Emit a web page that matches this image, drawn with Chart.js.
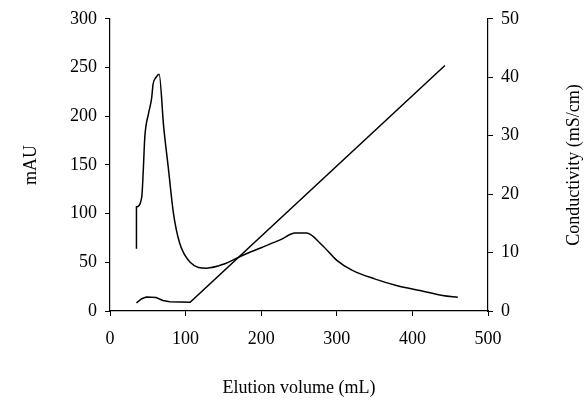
<!DOCTYPE html>
<html>
<head>
<meta charset="utf-8">
<script src="https://cdn.jsdelivr.net/npm/chart.js@4"></script>
<style>
  html, body { margin: 0; padding: 0; background: #fff; }
  #wrap { width: 584px; height: 403px; }
</style>
</head>
<body>
<div id="wrap"><canvas id="c" width="584" height="403"></canvas></div>
<script>
// UV absorbance trace (mL, mAU)
const uvVolume = [35, 35, 42, 44, 46, 51, 55, 57, 61, 65, 71, 77, 84, 92, 106, 128, 150, 175, 200, 225, 245, 260, 280, 300, 320, 350, 380, 410, 440, 460];
const uvValues = [64, 107, 117, 144, 178, 203, 218, 233, 240, 243, 189, 148, 100, 70, 50, 44, 48, 57, 65, 73, 80, 80, 68, 52, 42, 33, 26, 21, 16, 14];

// Conductivity trace (mL, mS/cm)
const condVolume = [35, 42, 48, 61, 70, 79, 106, 443];
const condValues = [1.4, 2.1, 2.4, 2.3, 1.8, 1.6, 1.5, 42];

const FONT = { family: 'Liberation Serif', size: 18 };

function toPoints(xs, ys) {
    return xs.map((x, i) => ({ x, y: ys[i] }));
}

// right axis title reads bottom-to-top, as in the reference
const rightTitle = {
    id: 'rightTitle',
    afterDraw(chart) {
        const { ctx, chartArea } = chart;
        ctx.save();
        ctx.translate(574, (chartArea.top + chartArea.bottom) / 2);
        ctx.rotate(-Math.PI / 2);
        ctx.font = '18px "Liberation Serif"';
        ctx.fillStyle = '#000';
        ctx.textAlign = 'center';
        ctx.textBaseline = 'middle';
        ctx.fillText('Conductivity (mS/cm)', 0, 0);
        ctx.restore();
    }
};

new Chart(document.getElementById('c'), {
    type: 'line',
    data: {
        datasets: [
            { data: toPoints(uvVolume, uvValues), yAxisID: 'y', borderColor: '#000', borderWidth: 1.5, pointRadius: 0, cubicInterpolationMode: 'monotone' },
            { data: toPoints(condVolume, condValues), yAxisID: 'y2', borderColor: '#000', borderWidth: 1.5, pointRadius: 0, tension: 0 }
        ]
    },
    plugins: [rightTitle],
    options: {
        responsive: false,
        animation: false,
        layout: { padding: { top: 18 } },
        plugins: { legend: { display: false }, tooltip: { enabled: false } },
        scales: {
            x: {
                type: 'linear', min: 0, max: 500,
                ticks: { stepSize: 100, color: '#000', font: FONT, padding: 12 },
                grid: { drawOnChartArea: false, color: '#000', tickLength: 5 },
                border: { color: '#000', width: 1.2 },
                title: { display: true, text: 'Elution volume (mL)', color: '#000', font: FONT, padding: { top: 31 } },
                afterFit: s => { s.height = 92; }
            },
            y: {
                position: 'left', min: 0, max: 300,
                ticks: { stepSize: 50, color: '#000', font: FONT, padding: 8 },
                grid: { drawOnChartArea: false, color: '#000', tickLength: 5 },
                border: { color: '#000', width: 1.2 },
                title: { display: true, text: 'mAU', color: '#000', font: FONT, padding: { top: 20, bottom: 6 } },
                afterFit: s => { s.width = 110; }
            },
            y2: {
                position: 'right', min: 0, max: 50,
                ticks: { stepSize: 10, color: '#000', font: FONT, padding: 8 },
                grid: { drawOnChartArea: false, color: '#000', tickLength: 5 },
                border: { color: '#000', width: 1.2 },
                afterFit: s => { s.width = 96; }
            }
        }
    }
});
</script>
</body>
</html>
